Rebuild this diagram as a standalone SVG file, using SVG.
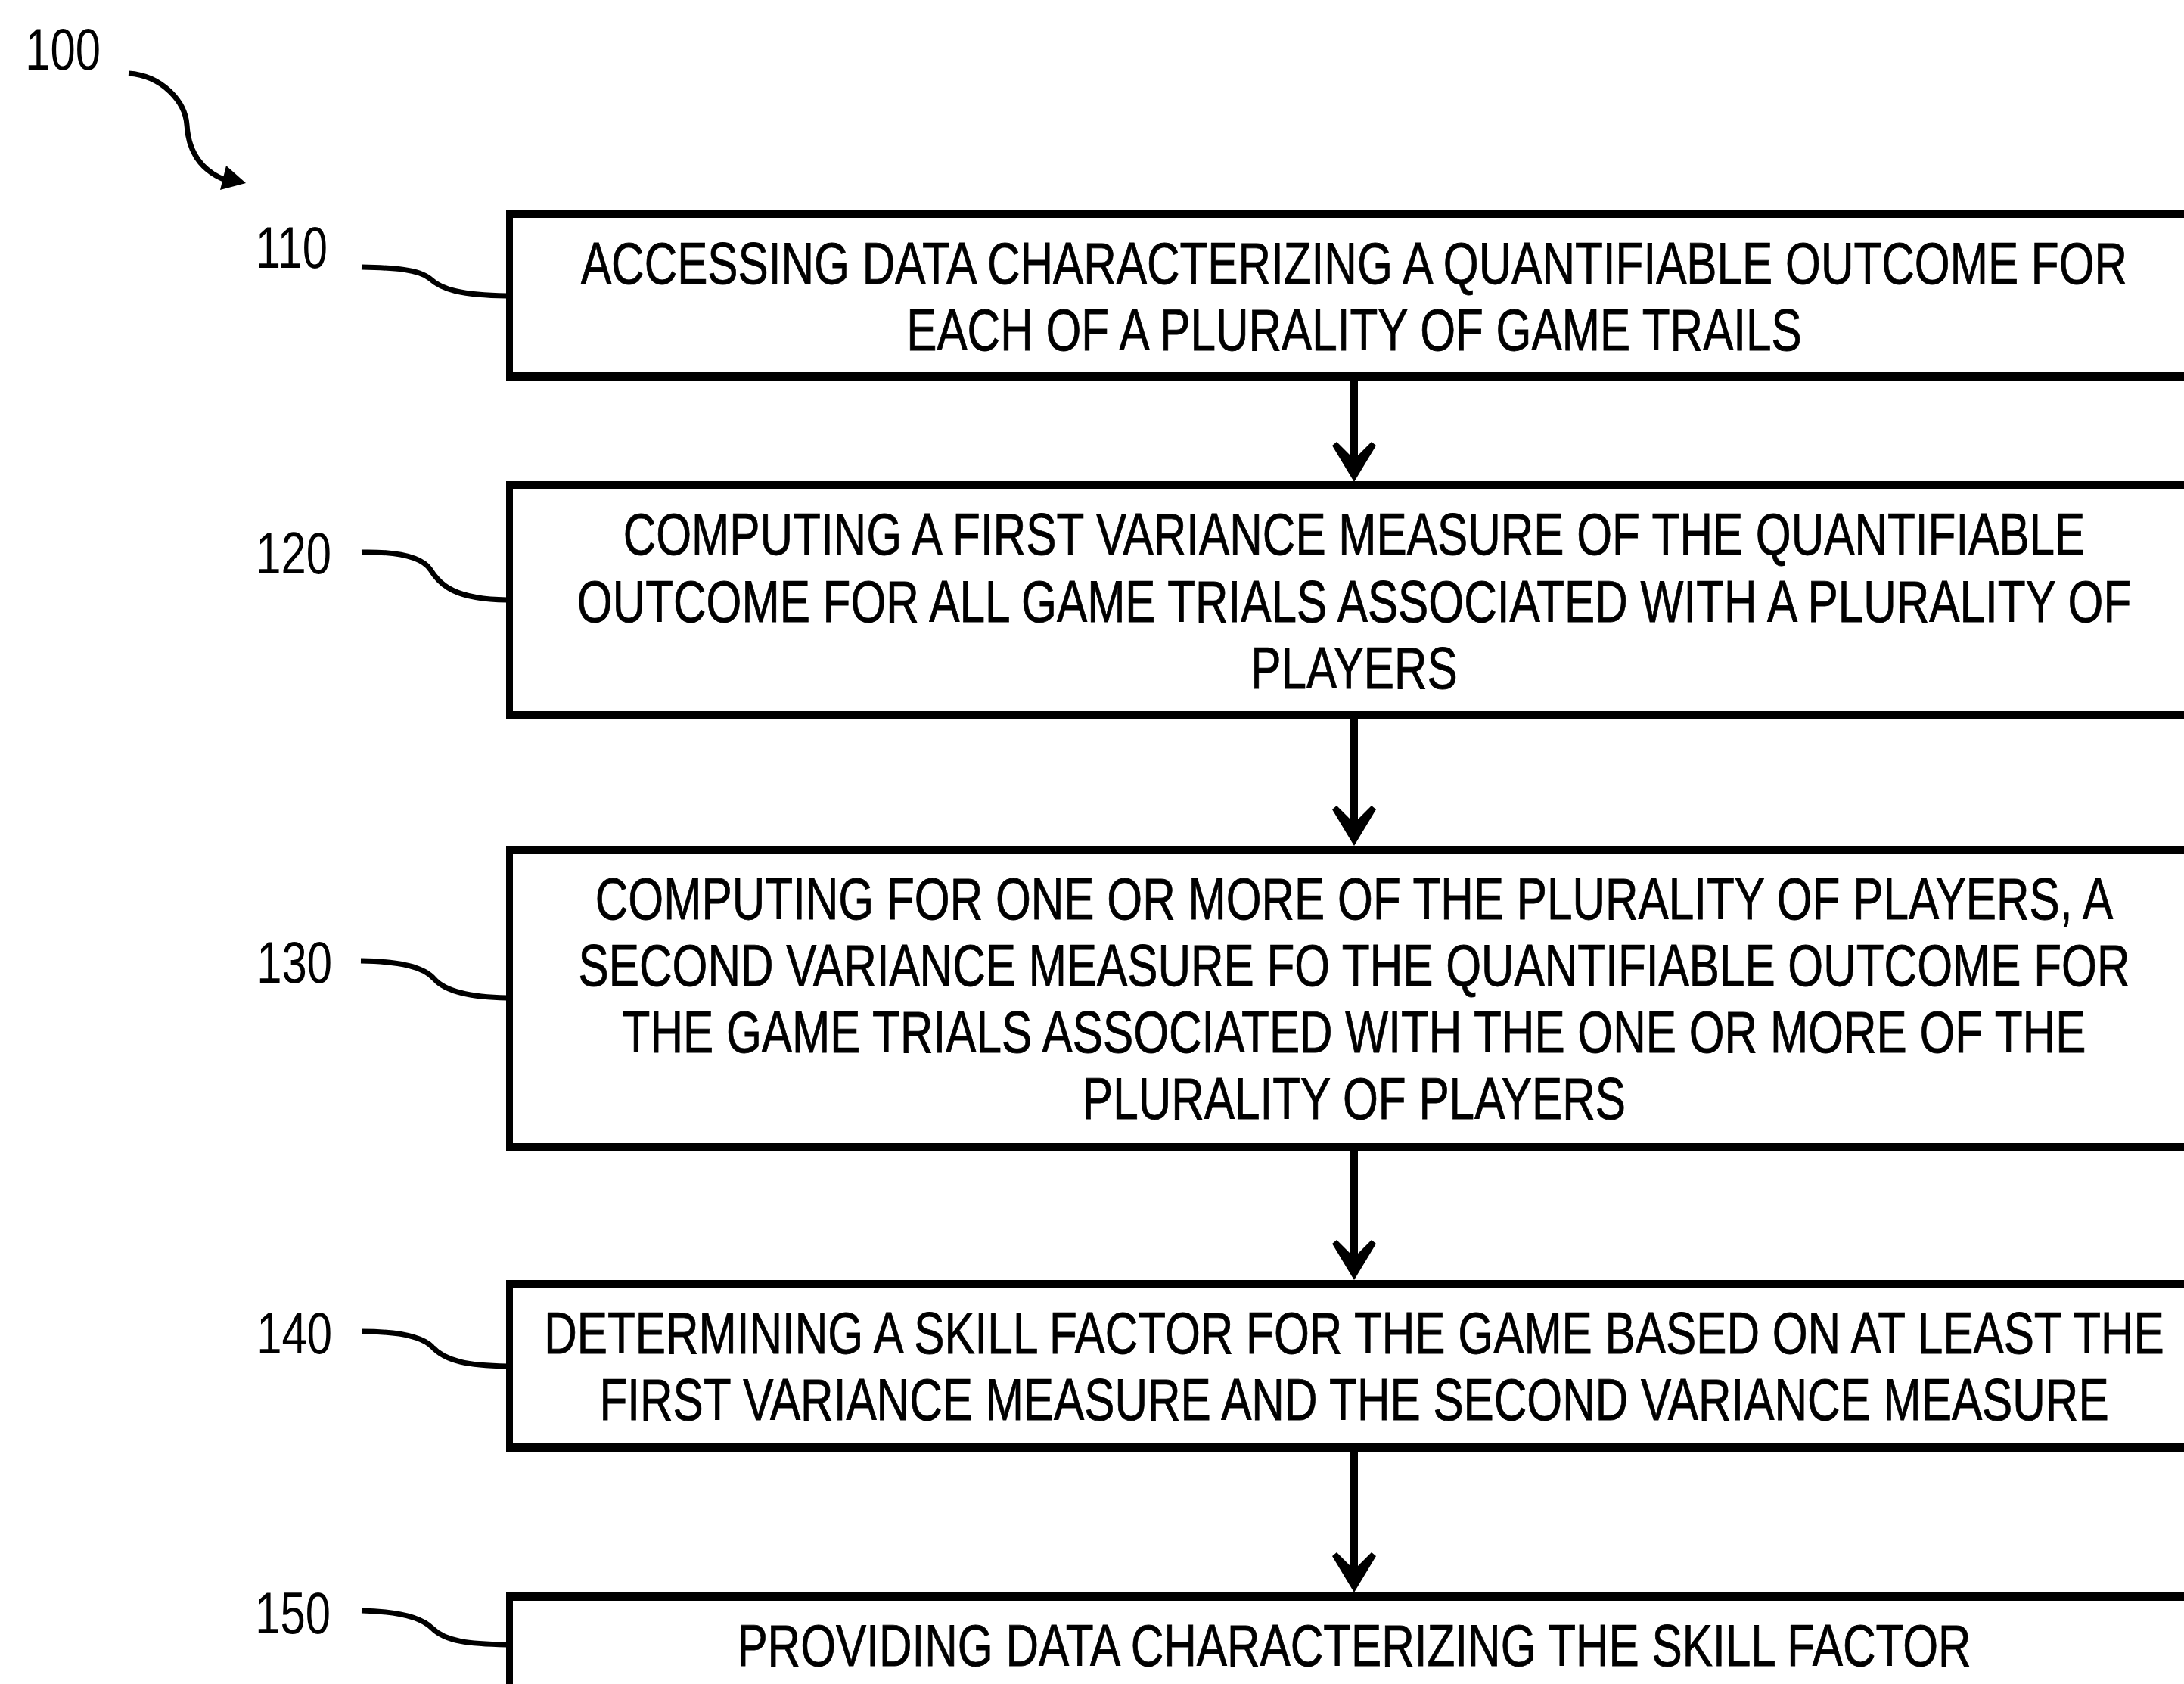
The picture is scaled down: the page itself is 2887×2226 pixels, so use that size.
<svg xmlns="http://www.w3.org/2000/svg" width="2887" height="2226" viewBox="0 0 2887 2226">
<style>
.t{font-family:"Liberation Sans",Arial,sans-serif;font-size:77px;fill:#000;text-anchor:middle;stroke:#000;stroke-width:0.8}
.lbl{font-family:"Liberation Sans",Arial,sans-serif;font-size:78px;fill:#000;text-anchor:end}
.frame{fill:#000;fill-rule:evenodd}
.lead{fill:none;stroke:#000;stroke-width:7;stroke-linecap:butt}
.stem{stroke:#000;stroke-width:10}
.head{fill:#000}
</style>
<rect width="2887" height="2226" fill="#fff"/>

<g id="ref100">
  <g transform="translate(133,92) scale(0.767,1)"><text class="lbl" x="0" y="0">100</text></g>
  <path class="lead" d="M170,97 C215,100 245,135 247,165 C249,200 265,225 298,238"/>
  <polygon class="head" points="325,242 291,251 299,219"/>
</g>

<g id="connectors">
  <line class="stem" x1="1790" y1="503" x2="1790" y2="612"/>
  <polygon class="head" points="1790,637 1761,589 1767,584 1785,602 1795,602 1813,584 1819,589"/>
  <line class="stem" x1="1790" y1="951" x2="1790" y2="1093"/>
  <polygon class="head" points="1790,1118 1761,1070 1767,1065 1785,1083 1795,1083 1813,1065 1819,1070"/>
  <line class="stem" x1="1790" y1="1522" x2="1790" y2="1667"/>
  <polygon class="head" points="1790,1692 1761,1644 1767,1639 1785,1657 1795,1657 1813,1639 1819,1644"/>
  <line class="stem" x1="1790" y1="1919" x2="1790" y2="2080"/>
  <polygon class="head" points="1790,2105 1761,2057 1767,2052 1785,2070 1795,2070 1813,2052 1819,2057"/>
</g>

<g id="step110">
  <g transform="translate(433,354) scale(0.767,1)"><text class="lbl" x="0" y="0">110</text></g>
  <path class="lead" d="M478,353 C522,354 553,356 568,368 C584,383 610,390 670,391"/>
  <path class="frame" d="M669,277 H2920 V503 H669 Z M678,288 V492 H2920 V288 Z"/>
  <g transform="translate(1790,0) scale(0.783,1)">
    <text class="t" x="0" y="375">ACCESSING DATA CHARACTERIZING A QUANTIFIABLE OUTCOME FOR</text>
    <text class="t" x="0" y="463">EACH OF A PLURALITY OF GAME TRAILS</text>
  </g>
</g>

<g id="step120">
  <g transform="translate(438,758) scale(0.767,1)"><text class="lbl" x="0" y="0">120</text></g>
  <path class="lead" d="M478,730 C528,729 558,737 569,753 C582,774 602,792 670,793"/>
  <path class="frame" d="M669,636 H2920 V951 H669 Z M678,647 V940 H2920 V647 Z"/>
  <g transform="translate(1790,0) scale(0.783,1)">
    <text class="t" x="0" y="733">COMPUTING A FIRST VARIANCE MEASURE OF THE QUANTIFIABLE</text>
    <text class="t" x="0" y="822">OUTCOME FOR ALL GAME TRIALS ASSOCIATED WITH A PLURALITY OF</text>
    <text class="t" x="0" y="910">PLAYERS</text>
  </g>
</g>

<g id="step130">
  <g transform="translate(439,1299) scale(0.767,1)"><text class="lbl" x="0" y="0">130</text></g>
  <path class="lead" d="M477,1270 C530,1271 560,1278 574,1294 C590,1312 625,1318 670,1319"/>
  <path class="frame" d="M669,1118 H2920 V1522 H669 Z M678,1129 V1511 H2920 V1129 Z"/>
  <g transform="translate(1790,0) scale(0.783,1)">
    <text class="t" x="0" y="1215">COMPUTING FOR ONE OR MORE OF THE PLURALITY OF PLAYERS, A</text>
    <text class="t" x="0" y="1303">SECOND VARIANCE MEASURE FO THE QUANTIFIABLE OUTCOME FOR</text>
    <text class="t" x="0" y="1391">THE GAME TRIALS ASSOCIATED WITH THE ONE OR MORE OF THE</text>
    <text class="t" x="0" y="1479">PLURALITY OF PLAYERS</text>
  </g>
</g>

<g id="step140">
  <g transform="translate(439,1789) scale(0.767,1)"><text class="lbl" x="0" y="0">140</text></g>
  <path class="lead" d="M478,1760 C528,1760 558,1767 571,1780 C589,1800 620,1805 670,1806"/>
  <path class="frame" d="M669,1692 H2920 V1919 H669 Z M678,1703 V1908 H2920 V1703 Z"/>
  <g transform="translate(1790,0) scale(0.783,1)">
    <text class="t" x="0" y="1789">DETERMINING A SKILL FACTOR FOR THE GAME BASED ON AT LEAST THE</text>
    <text class="t" x="0" y="1877">FIRST VARIANCE MEASURE AND THE SECOND VARIANCE MEASURE</text>
  </g>
</g>

<g id="step150">
  <g transform="translate(437,2159) scale(0.767,1)"><text class="lbl" x="0" y="0">150</text></g>
  <path class="lead" d="M478,2129 C528,2130 558,2139 571,2152 C589,2170 620,2173 670,2174"/>
  <path class="frame" d="M669,2105 H2920 V2240 H669 Z M678,2116 V2240 H2920 V2116 Z"/>
  <g transform="translate(1790,0) scale(0.783,1)">
    <text class="t" x="0" y="2202">PROVIDING DATA CHARACTERIZING THE SKILL FACTOR</text>
  </g>
</g>
</svg>
